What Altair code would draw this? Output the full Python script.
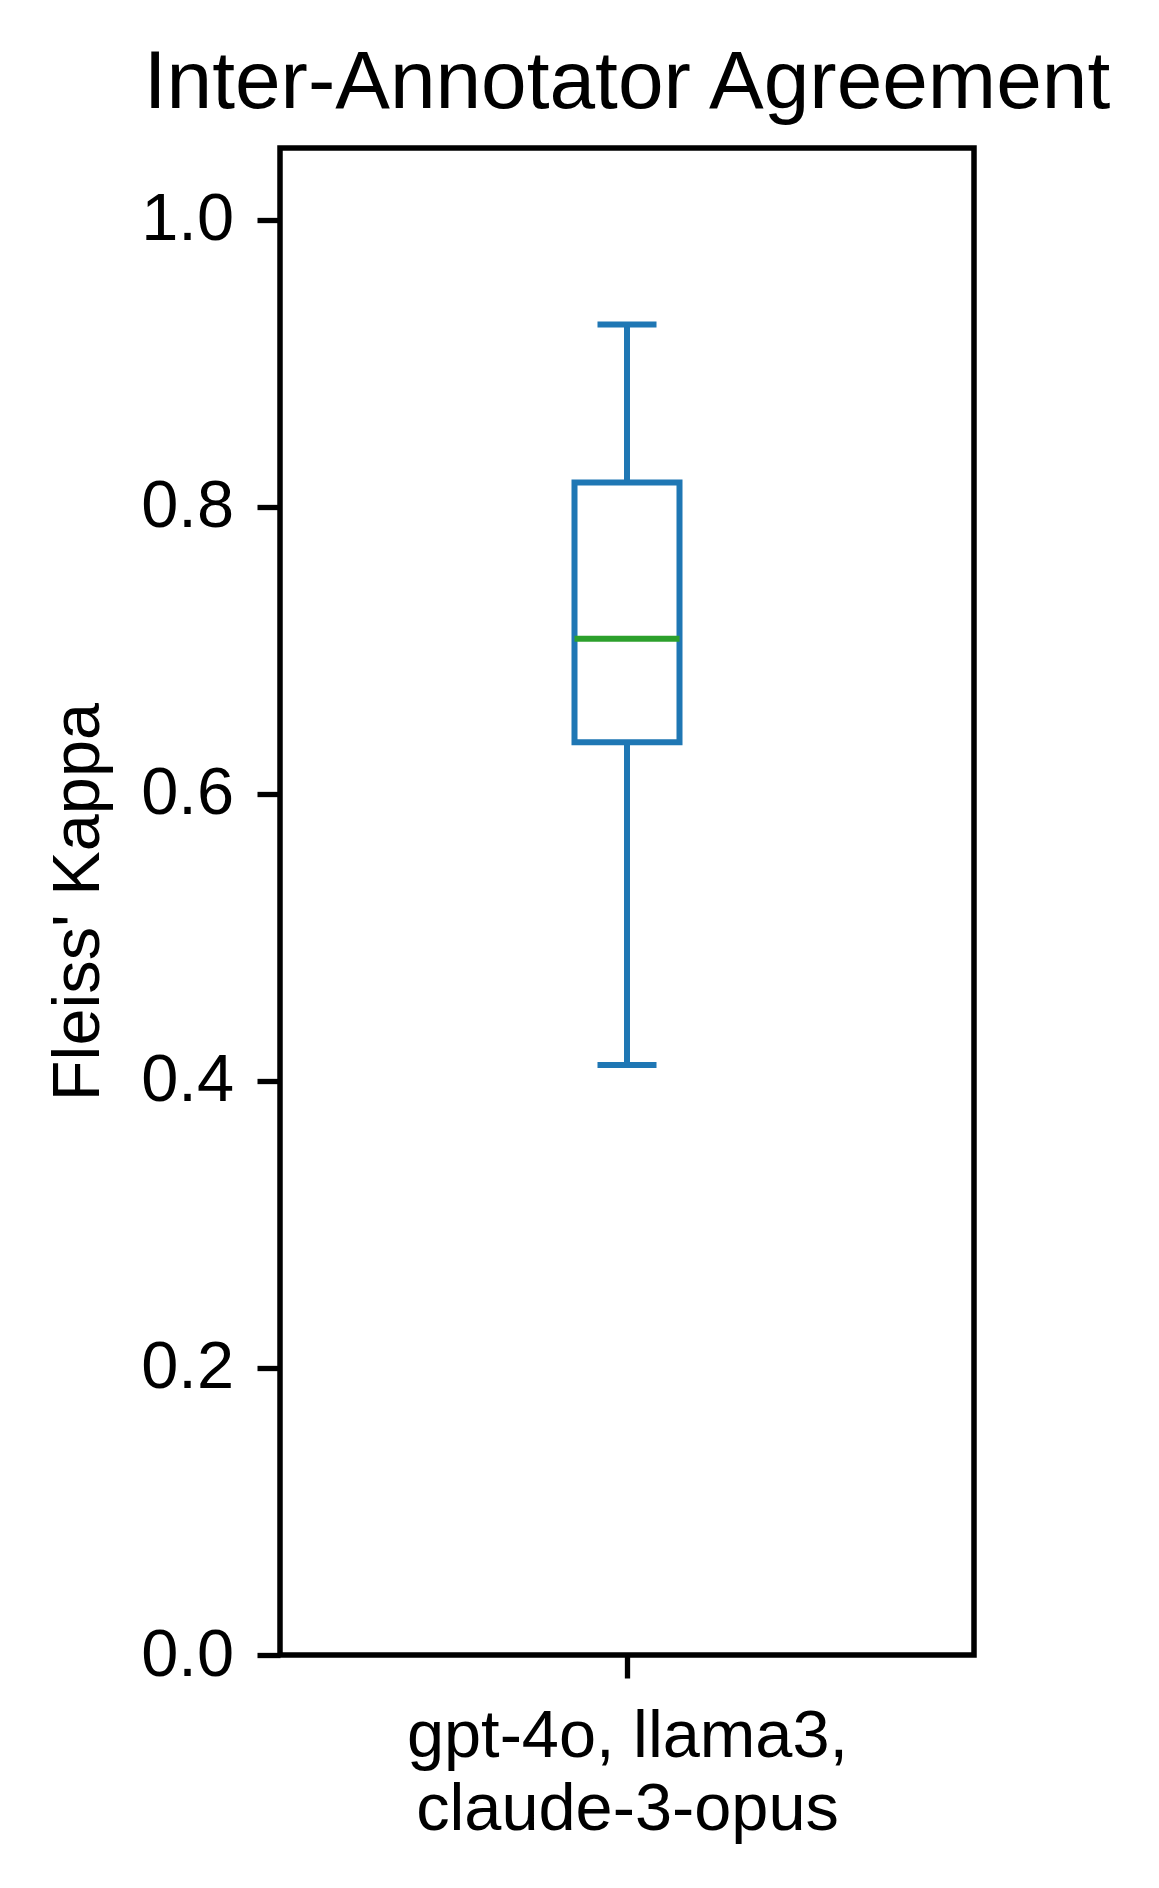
import altair as alt
import pandas as pd

# ---- data ----
GROUP = ["gpt-4o, llama3, claude-3-opus"]
X_LABEL_LINES = ["gpt-4o, llama3,", "\u00a0claude-3-opus"]
POSITION = [1]
LOWER_WHISKER = [0.411]
Q1 = [0.636]
MEDIAN = [0.708]
Q3 = [0.817]
UPPER_WHISKER = [0.927]
Y_TICKS = [0.0, 0.2, 0.4, 0.6, 0.8, 1.0]
Y_DOMAIN = [0.0, 1.05]
X_DOMAIN = [0.5, 1.5]

BLUE = "#1f77b4"
GREEN = "#2ca02c"
FONT = "Liberation Sans"
FS = 66.7
LW = 6

df = pd.DataFrame({
    "group": GROUP,
    "pos": POSITION,
    "lo": LOWER_WHISKER,
    "q1": Q1,
    "med": MEDIAN,
    "q3": Q3,
    "hi": UPPER_WHISKER,
})

x = alt.X(
    "pos:Q",
    scale=alt.Scale(domain=X_DOMAIN, nice=False, zero=False),
    axis=alt.Axis(
        values=POSITION, labels=False, domain=False, grid=False,
        tickSize=23, tickWidth=5.3, tickColor="black",
        title=X_LABEL_LINES, titleFont=FONT, titleFontSize=FS,
        titleFontWeight="normal", titleColor="black",
        titleLineHeight=73, titlePadding=22.5,
    ),
)

y_axis = alt.Axis(
    values=Y_TICKS, format=".1f", domain=False, grid=False,
    tickSize=23, tickWidth=5.3, tickColor="black",
    labelFont=FONT, labelFontSize=FS, labelColor="black", labelPadding=23.5,
    title="Fleiss' Kappa", titleFont=FONT, titleFontSize=FS,
    titleFontWeight="normal", titleColor="black", titlePadding=28,
)
yscale = alt.Scale(domain=Y_DOMAIN, nice=False, zero=True)

base = alt.Chart(df)

whisker_low = base.mark_rule(color=BLUE, strokeWidth=LW, opacity=1).encode(
    x=x, y=alt.Y("lo:Q", scale=yscale, axis=y_axis), y2="q1:Q")
whisker_high = base.mark_rule(color=BLUE, strokeWidth=LW, opacity=1).encode(
    x=x, y=alt.Y("q3:Q", scale=yscale, axis=y_axis), y2="hi:Q")
box = base.mark_bar(fill="white", stroke=BLUE, strokeWidth=LW, size=105, opacity=1).encode(
    x=x, y=alt.Y("q1:Q", scale=yscale, axis=y_axis), y2="q3:Q")
median = base.mark_tick(color=GREEN, orient="horizontal", size=105, thickness=LW, opacity=1).encode(
    x=x, y=alt.Y("med:Q", scale=yscale, axis=y_axis))
cap_low = base.mark_tick(color=BLUE, orient="horizontal", size=59, thickness=LW, opacity=1).encode(
    x=x, y=alt.Y("lo:Q", scale=yscale, axis=y_axis))
cap_high = base.mark_tick(color=BLUE, orient="horizontal", size=59, thickness=LW, opacity=1).encode(
    x=x, y=alt.Y("hi:Q", scale=yscale, axis=y_axis))

chart = alt.layer(whisker_low, whisker_high, box, median, cap_low, cap_high).properties(
    width=694,
    height=1507,
    background="white",
    title=alt.TitleParams(
        text="Inter-Annotator Agreement", font=FONT, fontSize=82,
        fontWeight="normal", color="black", anchor="middle",
        baseline="alphabetic", offset=-42,
    ),
    autosize=alt.AutoSizeParams(type="none"),
    padding={"left": 272, "top": 140, "right": 177, "bottom": 225},
).configure_view(stroke="black", strokeWidth=5.5)

chart.save("out.html", embed_options={"renderer": "svg", "actions": False})
